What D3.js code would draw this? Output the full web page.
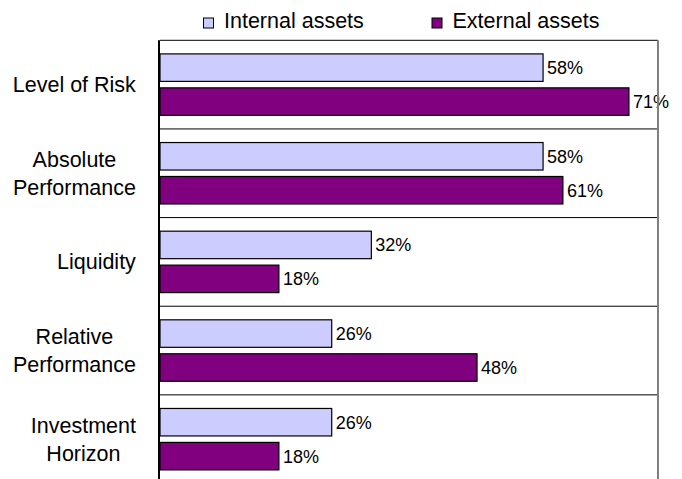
<!DOCTYPE html>
<html lang="en">
<head>
<meta charset="UTF-8">
<title>Internal vs External assets</title>
<script src="https://d3js.org/d3.v7.min.js"></script>
<style>
  body { margin: 0; background: #fff; }
  text { font-family: "Liberation Sans", Arial, sans-serif; fill: #000; }
</style>
</head>
<body>
<script>
// chart data
const categories = ["Level of Risk", "Absolute Performance", "Liquidity", "Relative Performance", "Investment Horizon"];
const categoryLines = [["Level of Risk"], ["Absolute", "Performance"], ["Liquidity"], ["Relative", "Performance"], ["Investment", "Horizon"]];
const series = ["Internal assets", "External assets"];
const internalValues = [58, 58, 32, 26, 26];
const externalValues = [71, 61, 18, 48, 18];
const colors = ["#ccccff", "#800080"];

const width = 682, height = 479;
const plot = { left: 160, right: 658, top: 40.3, bottom: 483.5 };

const svg = d3.select("body").append("svg")
  .attr("width", width)
  .attr("height", height);

const x = d3.scaleLinear().domain([0, 75.4]).range([plot.left, plot.right]);
const y0 = d3.scaleBand().domain(categories).range([plot.top, plot.bottom]);
const y1 = d3.scaleBand().domain(series)
  .range([13.6, y0.bandwidth() - 13.6])
  .paddingInner(0.19);

const rows = categories.map((c, i) => ({
  cat: c,
  lines: categoryLines[i],
  vals: [internalValues[i], externalValues[i]]
}));

// separators between categories (top line included)
svg.append("g").selectAll("line")
  .data(categories)
  .join("line")
  .attr("x1", plot.left).attr("x2", plot.right)
  .attr("y1", d => y0(d)).attr("y2", d => y0(d))
  .attr("stroke", "#000").attr("stroke-width", 1);

// bars
const groups = svg.append("g").selectAll("g")
  .data(rows)
  .join("g")
  .attr("transform", d => `translate(0,${y0(d.cat)})`);

groups.selectAll("rect")
  .data(d => d.vals.map((v, j) => ({ s: series[j], v, j })))
  .join("rect")
  .attr("x", x(0))
  .attr("y", d => y1(d.s))
  .attr("width", d => x(d.v) - x(0))
  .attr("height", y1.bandwidth())
  .attr("fill", d => colors[d.j])
  .attr("stroke", "#000")
  .attr("stroke-width", 1.2);

groups.selectAll("text.val")
  .data(d => d.vals.map((v, j) => ({ s: series[j], v, j })))
  .join("text")
  .attr("class", "val")
  .attr("x", d => x(d.v) + 4)
  .attr("y", d => y1(d.s) + y1.bandwidth() / 2 + 6.5)
  .attr("font-size", "18px")
  .text(d => d.v + "%");

// right border of the plot area
svg.append("line")
  .attr("x1", plot.right).attr("x2", plot.right)
  .attr("y1", plot.top).attr("y2", plot.bottom)
  .attr("stroke", "#808080").attr("stroke-width", 2);

// category axis
svg.append("line")
  .attr("x1", 159).attr("x2", 159)
  .attr("y1", plot.top).attr("y2", plot.bottom)
  .attr("stroke", "#000").attr("stroke-width", 2);

// category labels: block right-aligned, lines centred inside the block
const labelRight = 136;
const lineH = 28;
rows.forEach(r => {
  const cy = y0(r.cat) + y0.bandwidth() / 2;
  const t = svg.append("text")
    .attr("font-size", "21.5px")
    .attr("text-anchor", "middle");
  r.lines.forEach((ln, i) => {
    t.append("tspan")
      .attr("x", 0)
      .attr("y", cy + (i - (r.lines.length - 1) / 2) * lineH + 7.5)
      .text(ln);
  });
  const w = t.node().getBBox().width;
  t.selectAll("tspan").attr("x", labelRight - w / 2);
});

// legend
const legendX = [203.5, 432];
const legend = svg.append("g").selectAll("g")
  .data(series)
  .join("g")
  .attr("transform", (d, i) => `translate(${legendX[i]},0)`);

legend.append("rect")
  .attr("x", 0).attr("y", 18)
  .attr("width", 10).attr("height", 10)
  .attr("fill", (d, i) => colors[i])
  .attr("stroke", "#000").attr("stroke-width", 1);

legend.append("text")
  .attr("x", 20.5).attr("y", 28.3)
  .attr("font-size", "21.5px")
  .text(d => d);
</script>
</body>
</html>
